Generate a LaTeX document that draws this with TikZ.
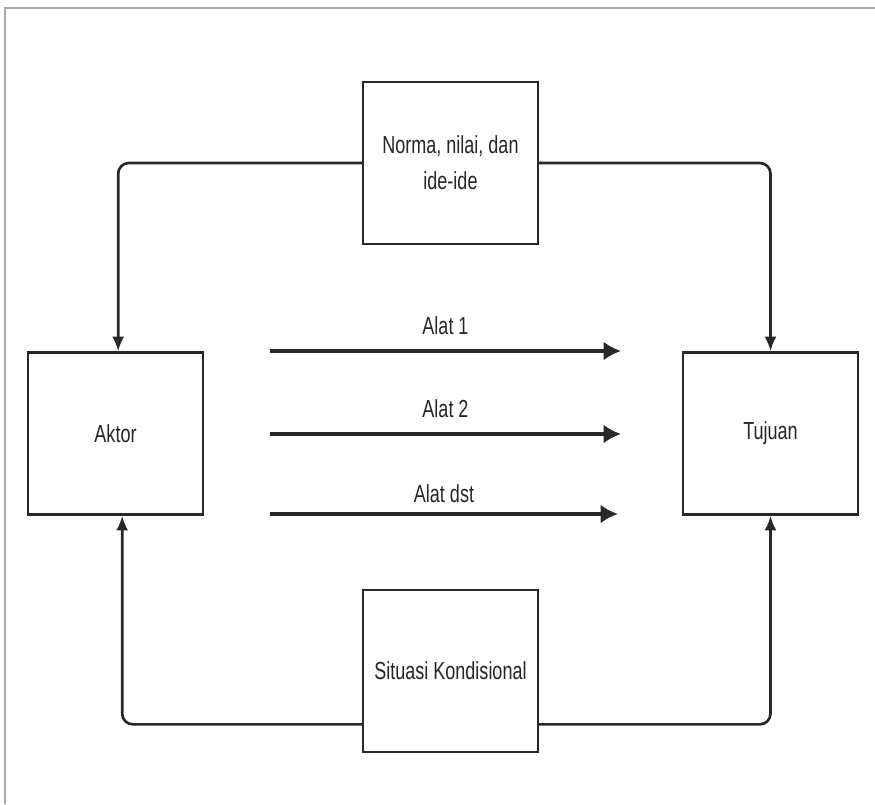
\documentclass[tikz,border=0pt]{standalone}
\usepackage{fontspec}
\newfontfamily\diagfont[FakeStretch=0.73]{Liberation Sans}
\usetikzlibrary{arrows.meta}
\definecolor{linec}{RGB}{40,40,40}
\definecolor{framec}{RGB}{170,170,170}

\tikzset{
  kotak/.style={draw=linec, line width=1.8pt, fill=white, minimum width=131pt, minimum height=121.5pt, align=center, font=\diagfont\fontsize{18.5}{27}\selectfont, text=black!85},
  hubung/.style={draw=linec, line width=2pt, rounded corners=8pt, -{Latex[length=11pt,width=9pt]}},
  alat/.style={draw=linec, line width=2.3pt, -{Latex[length=13pt,width=14pt]}},
  label/.style={font=\diagfont\fontsize{18.5}{22}\selectfont, text=black!85}
}

\begin{document}
\begin{tikzpicture}[x=0.75pt,y=-0.75pt]
\useasboundingbox (0,0) rectangle (875,804);
%\draw[step=50,gray,very thin] (0,0) grid (875,804);

%%% frame of the screenshot
\draw[framec, line width=1.5pt] (5,804) -- (5,8) -- (875,8);

%%% the four boxes
\node[kotak] (norma) at (450.5,163) {Norma, nilai, dan\\ide-ide};
\node[kotak] (aktor) at (115.5,433.5) {Aktor};
\node[kotak] (tujuan) at (770.5,433.5) {Tujuan};
\node[kotak] (situasi) at (450.5,671) {Situasi Kondisional};

%%% connectors round the boxes
\draw[hubung] (norma.west) -| ([xshift=2pt]aktor.north);
\draw[hubung] (norma.east) -| (tujuan.north);
\draw[hubung] ([yshift=-40pt]situasi.west) -| ([xshift=5pt]aktor.south);
\draw[hubung] ([yshift=-40pt]situasi.east) -| (tujuan.south);

%%% the means (alat)
\coordinate (a1s) at (270,351);
\coordinate (a1e) at (621,351);
\coordinate (a2s) at (270,434);
\coordinate (a2e) at (621,434);
\coordinate (a3s) at (270,514);
\coordinate (a3e) at (618,514);
\draw[alat] (a1s) -- (a1e) node[label, midway, above=8pt] (alat1) {Alat 1};
\draw[alat] (a2s) -- (a2e) node[label, midway, above=8pt] (alat2) {Alat 2};
\draw[alat] (a3s) -- (a3e) node[label, midway, above=4pt] (alat3) {Alat dst};
\end{tikzpicture}
\end{document}
